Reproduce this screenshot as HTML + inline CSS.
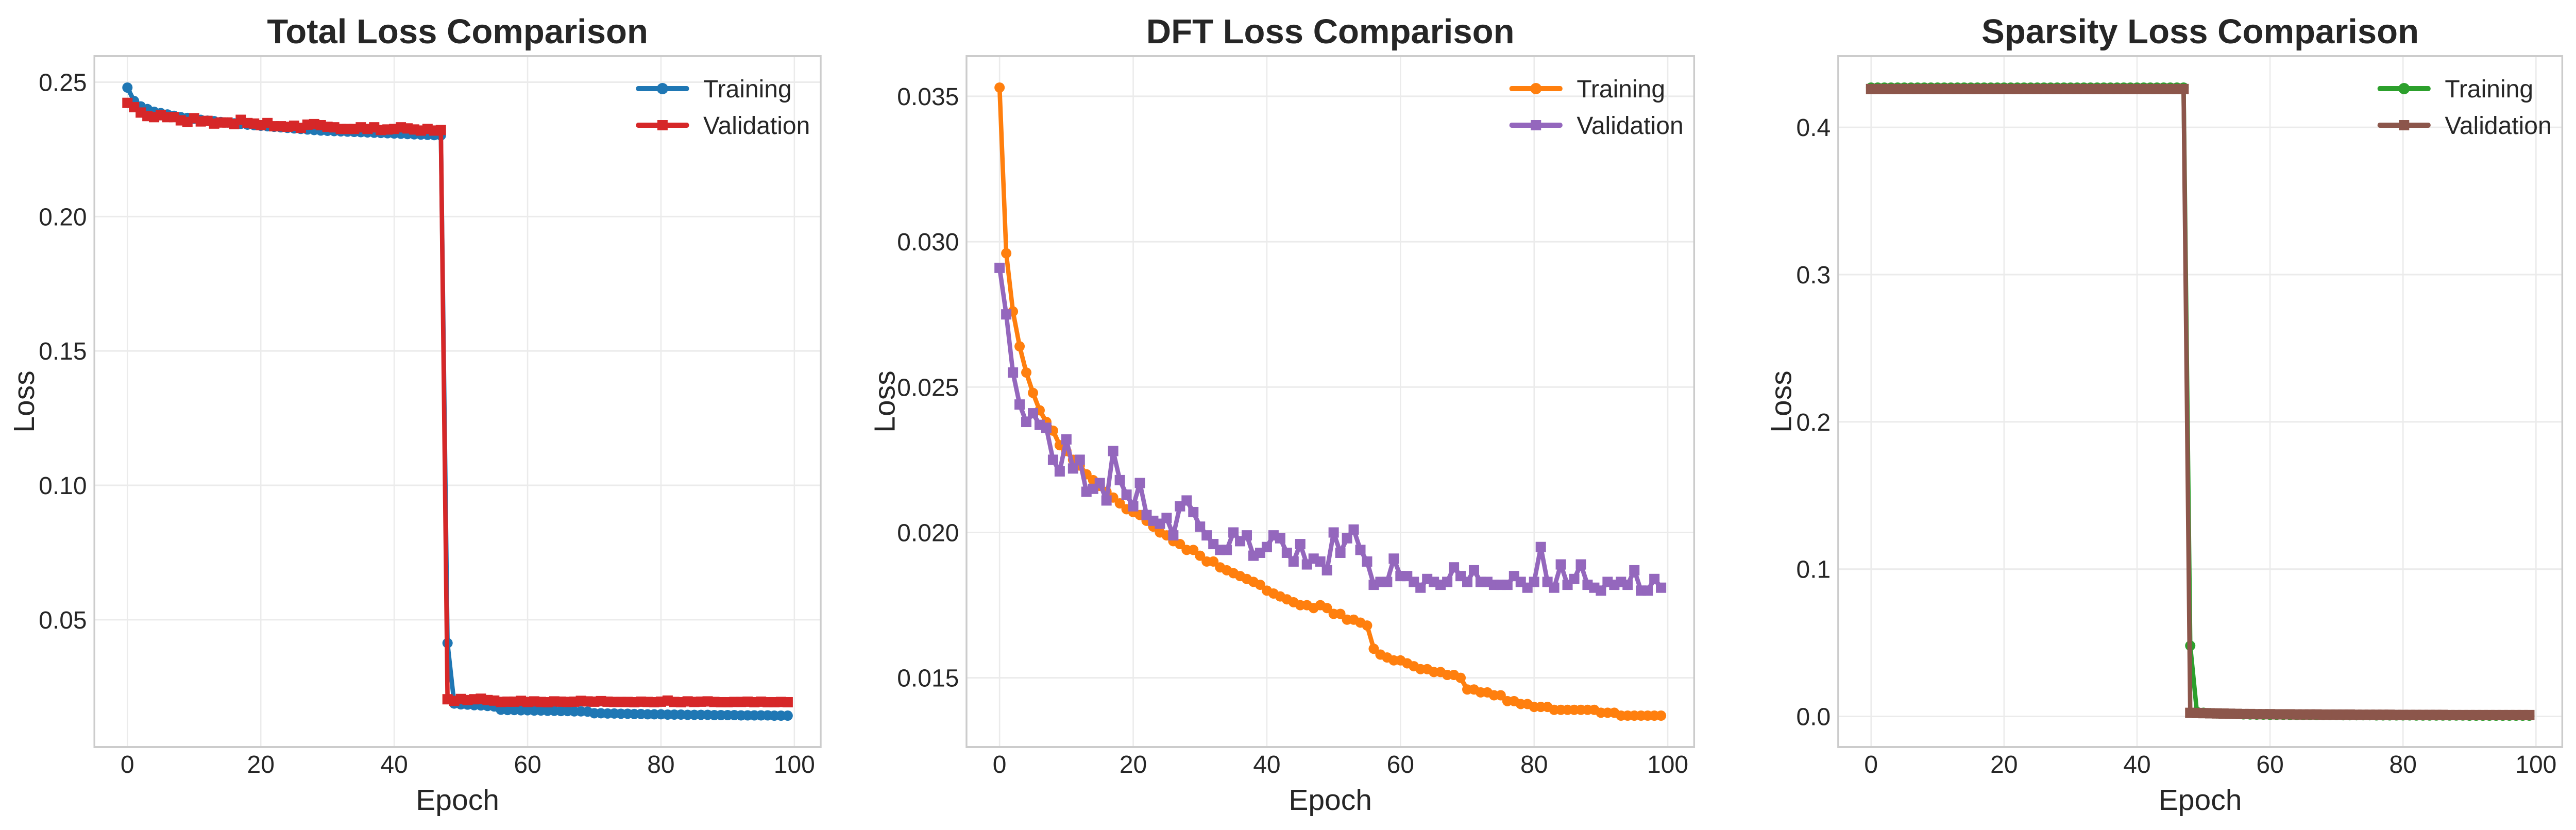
<!DOCTYPE html>
<html><head><meta charset="utf-8"><style>
html,body{margin:0;padding:0;background:#fff;width:100%;height:100%;overflow:hidden;}
svg{display:block;position:absolute;left:0;top:0;width:100vw;height:100vh;font-family:"Liberation Sans",sans-serif;}
</style></head><body>
<svg id="fig" viewBox="0 0 5813 1611" preserveAspectRatio="none" xmlns="http://www.w3.org/2000/svg">
<rect width="5813" height="1611" fill="#fff"/>
</svg>
<script>
const epochs = Array.from({length:100},(_,i)=>i);
const xTicks = [0,20,40,60,80,100];

const totalTrain = [0.248,0.243,0.241,0.240,0.239,0.2385,0.238,0.2375,0.237,0.2367,
0.2364,0.236,0.2357,0.2355,0.2352,0.235,0.2347,0.2345,0.2342,0.234,
0.2338,0.2336,0.2334,0.2332,0.233,0.2328,0.2326,0.2324,0.2322,0.232,
0.2319,0.2318,0.2317,0.2316,0.2315,0.2314,0.2313,0.2312,0.2311,0.231,
0.2309,0.2308,0.2307,0.2306,0.2305,0.2304,0.2303,0.2302,0.0413,0.0188,
0.0185,0.0184,0.0182,0.0181,0.0179,0.0177,0.0165,0.0164,0.0164,0.0163,
0.0163,0.0162,0.0162,0.0161,0.0161,0.0160,0.0160,0.0159,0.0159,0.0158,
0.0152,0.0152,0.0151,0.0151,0.0150,0.0150,0.0149,0.0149,0.0148,0.0148,
0.0148,0.0147,0.0147,0.0147,0.0146,0.0146,0.0146,0.0146,0.0145,0.0145,
0.0145,0.0145,0.0144,0.0144,0.0144,0.0144,0.0144,0.0143,0.0143,0.0143];
const totalVal = [0.2423,0.2407,0.2387,0.2374,0.237,0.2377,0.237,0.237,0.2358,0.2352,
0.2366,0.2354,0.2356,0.2346,0.235,0.235,0.2344,0.236,0.2348,0.2346,
0.234,0.2348,0.2336,0.2336,0.2334,0.2338,0.233,0.2342,0.2344,0.234,
0.2334,0.2332,0.2326,0.2326,0.2326,0.2332,0.2326,0.2332,0.2322,0.2324,
0.2326,0.2332,0.2328,0.2324,0.232,0.2326,0.232,0.2322,0.0204,0.0198,
0.0205,0.0201,0.0204,0.0206,0.0201,0.0199,0.0194,0.0195,0.0195,0.0198,
0.0194,0.0196,0.0194,0.0193,0.0196,0.0195,0.0194,0.0195,0.0198,0.0196,
0.0195,0.0197,0.0195,0.0194,0.0194,0.0194,0.0193,0.0195,0.0194,0.0193,
0.0195,0.0199,0.0194,0.0193,0.0196,0.0194,0.0195,0.0196,0.0194,0.0193,
0.0193,0.0194,0.0194,0.0195,0.0193,0.0195,0.0193,0.0193,0.0194,0.0193];
const totalTicks = [0.05,0.10,0.15,0.20,0.25];
const totalTickLabels = ["0.05","0.10","0.15","0.20","0.25"];

const dftTrain = [0.0353,0.0296,0.0276,0.0264,0.0255,0.0248,0.0242,0.0238,0.0235,0.0230,
0.0228,0.0225,0.0223,0.0220,0.0218,0.0216,0.0214,0.0212,0.0210,0.0208,
0.0207,0.0206,0.0204,0.0202,0.0200,0.0199,0.0197,0.0196,0.0194,0.0194,
0.0192,0.0190,0.0190,0.0188,0.0187,0.0186,0.0185,0.0184,0.0183,0.0182,
0.0180,0.0179,0.0178,0.0177,0.0176,0.0175,0.0175,0.0174,0.0175,0.0174,
0.0172,0.0172,0.0170,0.0170,0.0169,0.0168,0.0160,0.0158,0.0157,0.0156,
0.0156,0.0155,0.0154,0.0153,0.0153,0.0152,0.0152,0.0151,0.0151,0.0150,
0.0146,0.0146,0.0145,0.0145,0.0144,0.0144,0.0142,0.0142,0.0141,0.0141,
0.0140,0.0140,0.0140,0.0139,0.0139,0.0139,0.0139,0.0139,0.0139,0.0139,
0.0138,0.0138,0.0138,0.0137,0.0137,0.0137,0.0137,0.0137,0.0137,0.0137];
const dftVal = [0.0291,0.0275,0.0255,0.0244,0.0238,0.0241,0.0237,0.0236,0.0225,0.0221,
0.0232,0.0222,0.0225,0.0214,0.0215,0.0217,0.0211,0.0228,0.0218,0.0213,
0.0209,0.0217,0.0206,0.0204,0.0203,0.0205,0.0199,0.0209,0.0211,0.0207,
0.0202,0.0199,0.0196,0.0194,0.0194,0.0200,0.0197,0.0199,0.0192,0.0193,
0.0195,0.0199,0.0198,0.0193,0.0190,0.0196,0.0189,0.0191,0.0190,0.0187,
0.0200,0.0193,0.0198,0.0201,0.0194,0.0190,0.0182,0.0183,0.0183,0.0191,
0.0185,0.0185,0.0183,0.0181,0.0184,0.0183,0.0182,0.0183,0.0188,0.0185,
0.0183,0.0187,0.0183,0.0183,0.0182,0.0182,0.0182,0.0185,0.0183,0.0181,
0.0183,0.0195,0.0183,0.0181,0.0189,0.0182,0.0184,0.0189,0.0182,0.0181,
0.0180,0.0183,0.0182,0.0183,0.0182,0.0187,0.0180,0.0180,0.0184,0.0181];
const dftTicks = [0.015,0.020,0.025,0.030,0.035];
const dftTickLabels = ["0.015","0.020","0.025","0.030","0.035"];

const sparTrain = [0.427,0.427,0.427,0.427,0.427,0.427,0.427,0.427,0.427,0.427,
0.427,0.427,0.427,0.427,0.427,0.427,0.427,0.427,0.427,0.427,
0.427,0.427,0.427,0.427,0.427,0.427,0.427,0.427,0.427,0.427,
0.427,0.427,0.427,0.427,0.427,0.427,0.427,0.427,0.427,0.427,
0.427,0.427,0.427,0.427,0.427,0.427,0.427,0.427,0.048,0.003,
0.0025,0.0022,0.002,0.0019,0.0018,0.0016,0.0014,0.0013,0.0012,0.0012,
0.0011,0.0011,0.0011,0.0010,0.0010,0.0010,0.0010,0.0009,0.0009,0.0009,
0.0009,0.0008,0.0008,0.0008,0.0008,0.0008,0.0007,0.0007,0.0007,0.0007,
0.0007,0.0007,0.0006,0.0006,0.0006,0.0006,0.0006,0.0006,0.0006,0.0006,
0.0005,0.0005,0.0005,0.0005,0.0005,0.0005,0.0005,0.0005,0.0005,0.0005];
const sparVal = [0.426,0.426,0.426,0.426,0.426,0.426,0.426,0.426,0.426,0.426,
0.426,0.426,0.426,0.426,0.426,0.426,0.426,0.426,0.426,0.426,
0.426,0.426,0.426,0.426,0.426,0.426,0.426,0.426,0.426,0.426,
0.426,0.426,0.426,0.426,0.426,0.426,0.426,0.426,0.426,0.426,
0.426,0.426,0.426,0.426,0.426,0.426,0.426,0.426,0.0024,0.0023,
0.0022,0.0021,0.0020,0.0019,0.0018,0.0017,0.0016,0.0016,0.0015,0.0015,
0.0015,0.0014,0.0014,0.0014,0.0013,0.0013,0.0013,0.0013,0.0012,0.0012,
0.0012,0.0012,0.0012,0.0011,0.0011,0.0011,0.0011,0.0011,0.0011,0.0010,
0.0010,0.0010,0.0010,0.0010,0.0010,0.0010,0.0010,0.0009,0.0009,0.0009,
0.0009,0.0009,0.0009,0.0009,0.0009,0.0009,0.0009,0.0009,0.0009,0.0009];
const sparTicks = [0.0,0.1,0.2,0.3,0.4];
const sparTickLabels = ["0.0","0.1","0.2","0.3","0.4"];

const NS = "http://www.w3.org/2000/svg";
const fig = document.getElementById('fig');
const vw = window.innerWidth || 5813, vh = window.innerHeight || 1611;
const KX = (vh/1611) / (vw/5813);  // horizontal correction factor for non-uniform scaling
function el(tag, attrs, parent){
  const e = document.createElementNS(NS, tag);
  for (const k in attrs) e.setAttribute(k, attrs[k]);
  (parent||fig).appendChild(e);
  return e;
}
function fixText(t, ax, ay){
  const prev = t.getAttribute('transform') || '';
  t.setAttribute('transform', `translate(${ax},${ay}) scale(${KX},1) translate(${-ax},${-ay}) ${prev}`);
}
function dot(cx, cy, r, fill, parent){
  return el('ellipse', {cx:cx, cy:cy, rx:r*KX, ry:r, fill:fill}, parent);
}
function sq(cx, cy, h, fill, parent){
  return el('rect', {x:cx-h*KX, y:cy-h, width:2*h*KX, height:2*h, fill:fill}, parent);
}

function drawChart(cfg){
  const g = el('g', {});
  
  
  const L=cfg.L, R=cfg.R, T=109, B=1450;
  const all = cfg.train.concat(cfg.val);
  const mn = Math.min(...all), mx = Math.max(...all), r = mx - mn;
  const y0 = mn - 0.05*r, y1 = mx + 0.05*r;
  const xs = v => L + (v - (-4.95)) / (103.95 - (-4.95)) * (R - L);
  const ys = v => B - (v - y0) / (y1 - y0) * (B - T);

  for (const t of xTicks){
    const ln = el('line', {x1:xs(t), x2:xs(t), y1:T, y2:B, stroke:'#ebebeb', 'stroke-width':3}, g);
    
    
  }
  cfg.yTicks.forEach((t,i)=>{
    const ln = el('line', {x1:L, x2:R, y1:ys(t), y2:ys(t), stroke:'#ebebeb', 'stroke-width':3}, g);
    
    
    const tx = el('text', {x:L-17, y:ys(t)+17, 'text-anchor':'end', 'font-size':48, fill:'#262626'}, g);
    tx.textContent = cfg.yLabels[i];
    
    
    fixText(tx, L-17, ys(t)+17);
  });
  for (const t of xTicks){
    const tx = el('text', {x:xs(t), y:1500, 'text-anchor':'middle', 'font-size':48, fill:'#262626'}, g);
    tx.textContent = String(t);
    
    
    fixText(tx, xs(t), 1500);
  }
  const fr = el('rect', {x:L, y:T, width:R-L, height:B-T, fill:'none', stroke:'#cccccc', 'stroke-width':4}, g);
  
  

  const series = [
    {data:cfg.train, color:cfg.c1, marker:'circle', name:'training-line'},
    {data:cfg.val, color:cfg.c2, marker:'square', name:'validation-line'}
  ];
  for (const s of series){
    const pts = s.data.map((v,i)=>xs(epochs[i]).toFixed(1)+','+ys(v).toFixed(1)).join(' ');
    const pl = el('polyline', {points:pts, fill:'none', stroke:s.color, 'stroke-width':10, 'stroke-linejoin':'round', 'stroke-linecap':'round'}, g);
    
    
    s.data.forEach((v,i)=>{
      let m;
      if (s.marker==='circle') m = dot(xs(epochs[i]), ys(v), 10, s.color, g);
      else m = sq(xs(epochs[i]), ys(v), 10, s.color, g);
      
      
    });
  }

  const lg = el('g', {}, g);
  
  
  const lx0 = R - 412, lx1 = R - 302, tx0 = R - 265;
  [[172,cfg.c1,'circle','Training'],[243,cfg.c2,'square','Validation']].forEach(([ly,c,mk,lab])=>{
    const ent = el('g', {}, lg);
    
    
    el('line', {x1:lx0, x2:lx1, y1:ly, y2:ly, stroke:c, 'stroke-width':10, 'stroke-linecap':'round'}, ent);
    if (mk==='circle') dot((lx0+lx1)/2, ly, 11, c, ent);
    else sq((lx0+lx1)/2, ly, 10, c, ent);
    const t = el('text', {x:tx0, y:ly+17, 'font-size':48, fill:'#262626'}, ent);
    t.textContent = lab;
    fixText(t, tx0, ly+17);
  });

  const ti = el('text', {x:(L+R)/2, y:84, 'text-anchor':'middle', 'font-size':67, 'font-weight':'bold', fill:'#262626'}, g);
  ti.textContent = cfg.title;
  
  
  fixText(ti, (L+R)/2, 84);
  const xl = el('text', {x:(L+R)/2, y:1572, 'text-anchor':'middle', 'font-size':57, fill:'#262626'}, g);
  xl.textContent = 'Epoch';
  
  
  fixText(xl, (L+R)/2, 1572);
  const yl = el('text', {x:0, y:0, 'text-anchor':'middle', 'font-size':57, fill:'#262626', transform:`translate(${cfg.yLabelX},${(T+B)/2}) rotate(-90)`}, g);
  yl.textContent = 'Loss';
  
  
  fixText(yl, cfg.yLabelX, (T+B)/2);
}

drawChart({name:'total-loss-chart', title:'Total Loss Comparison', L:213, R:1852, yLabelX:77,
  train:totalTrain, val:totalVal, c1:'#1f77b4', c2:'#d62728', yTicks:totalTicks, yLabels:totalTickLabels});
drawChart({name:'dft-loss-chart', title:'DFT Loss Comparison', L:2181, R:3823, yLabelX:2019,
  train:dftTrain, val:dftVal, c1:'#ff7f0e', c2:'#9467bd', yTicks:dftTicks, yLabels:dftTickLabels});
drawChart({name:'sparsity-loss-chart', title:'Sparsity Loss Comparison', L:4148, R:5782, yLabelX:4042,
  train:sparTrain, val:sparVal, c1:'#2ca02c', c2:'#8c564b', yTicks:sparTicks, yLabels:sparTickLabels});
</script>
</body></html>
